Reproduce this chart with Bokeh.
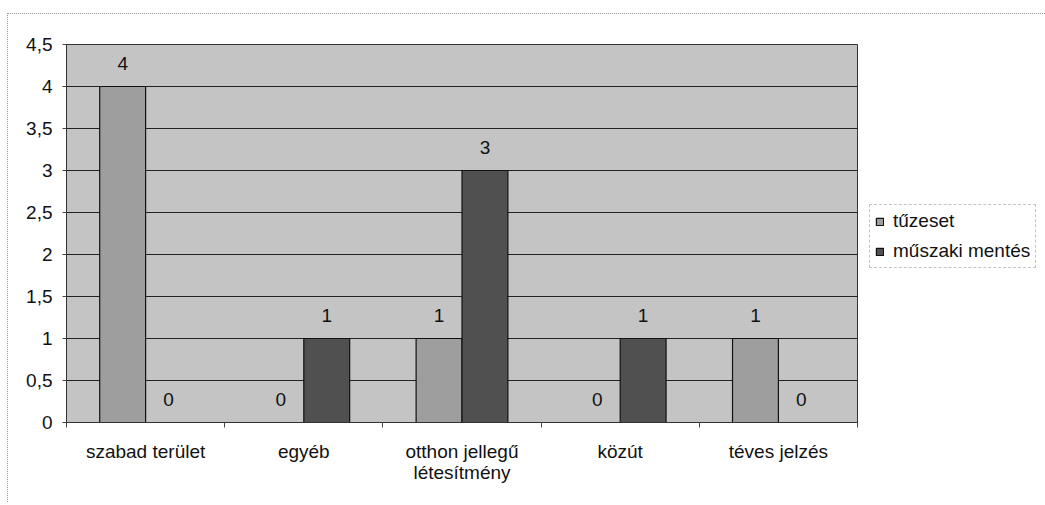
from bokeh.plotting import figure
from bokeh.models import ColumnDataSource, FixedTicker, LabelSet, Legend, LegendItem
from bokeh.transform import dodge
from bokeh.core.properties import value
from bokeh.embed import file_html
from bokeh.resources import INLINE

# ---- data ----
categories = ["szabad terület", "egyéb", "otthon jellegű\nlétesítmény", "közút", "téves jelzés"]
series_names = ["tűzeset", "műszaki mentés"]
tuzeset = [4, 0, 1, 0, 1]
muszaki = [0, 1, 3, 1, 0]
y_ticks = [0, 0.5, 1, 1.5, 2, 2.5, 3, 3.5, 4, 4.5]
y_tick_labels = ["0", "0,5", "1", "1,5", "2", "2,5", "3", "3,5", "4", "4,5"]

FONT = "Liberation Sans"
xpos = [i + 0.5 for i in range(len(categories))]
src = ColumnDataSource(dict(
    x=xpos, t=tuzeset, m=muszaki,
    tl=[str(v) for v in tuzeset], ml=[str(v) for v in muszaki],
))

p = figure(width=1035, height=488, frame_width=791, frame_height=378,
           min_border_left=58, min_border_right=186, min_border_top=30, min_border_bottom=80,
           x_range=(0, len(categories)), y_range=(0, 4.5),
           output_backend="svg", toolbar_location=None, tools="")
p.styles = {"margin-left": "7px", "margin-top": "13px",
            "border-left": "1px dotted #999999", "border-top": "1px dotted #999999"}

p.background_fill_color = "#c4c4c4"
p.border_fill_color = "white"
p.outline_line_color = "#333333"
p.outline_line_width = 1

bw = 0.29
r1 = p.vbar(x=dodge("x", -bw / 2, range=p.x_range), top="t", width=bw, source=src,
            fill_color="#9e9e9e", line_color="#111111", line_width=1.2)
r2 = p.vbar(x=dodge("x", bw / 2, range=p.x_range), top="m", width=bw, source=src,
            fill_color="#505050", line_color="#111111", line_width=1.2)

for col, lab, off in (("t", "tl", -bw / 2), ("m", "ml", bw / 2)):
    p.add_layout(LabelSet(x=dodge("x", off, range=p.x_range), y=col, text=lab, source=src,
                          y_offset=23, text_align="center", text_baseline="middle",
                          text_font=value(FONT), text_font_size="19px", text_color="#111111"))

# y axis
yax = p.yaxis[0]
yax.ticker = FixedTicker(ticks=y_ticks, minor_ticks=[])
yax.major_label_overrides = {t: l for t, l in zip(y_ticks, y_tick_labels)}
yax.major_label_text_font = FONT
yax.major_label_text_font_size = "19px"
yax.major_label_text_color = "#111111"
yax.major_tick_out = 4
yax.major_tick_in = 0
yax.major_tick_line_color = "#444444"
yax.axis_line_color = "#333333"
yax.major_label_standoff = 10

# x axis: labels at category centres, ticks at category boundaries
xax = p.xaxis[0]
xax.ticker = FixedTicker(ticks=xpos, minor_ticks=list(range(len(categories) + 1)))
xax.major_label_overrides = {x: c for x, c in zip(xpos, categories)}
xax.major_label_text_font = FONT
xax.major_label_text_font_size = "19px"
xax.major_label_text_color = "#111111"
xax.major_label_text_line_height = 1.0
xax.major_tick_out = 0
xax.major_tick_in = 0
xax.minor_tick_out = 5
xax.minor_tick_in = 0
xax.minor_tick_line_color = "#444444"
xax.axis_line_color = "#333333"
xax.major_label_standoff = 13

p.xgrid.grid_line_color = None
p.ygrid.ticker = FixedTicker(ticks=y_ticks)
p.ygrid.grid_line_color = "#222222"
p.ygrid.grid_line_width = 1

legend = Legend(items=[LegendItem(label=series_names[0], renderers=[r1]),
                       LegendItem(label=series_names[1], renderers=[r2])],
                location=(12, 154))
legend.border_line_color = "#888888"
legend.border_line_dash = "dotted"
legend.background_fill_color = "white"
legend.background_fill_alpha = 1
legend.label_text_font = FONT
legend.label_text_font_size = "19px"
legend.label_text_color = "#111111"
legend.glyph_width = 9
legend.glyph_height = 9
legend.label_standoff = 9
legend.padding = 5
legend.spacing = 8
legend.label_height = 22
legend.margin = 0
p.add_layout(legend, "right")

open("out.html", "w").write(file_html(p, INLINE))
